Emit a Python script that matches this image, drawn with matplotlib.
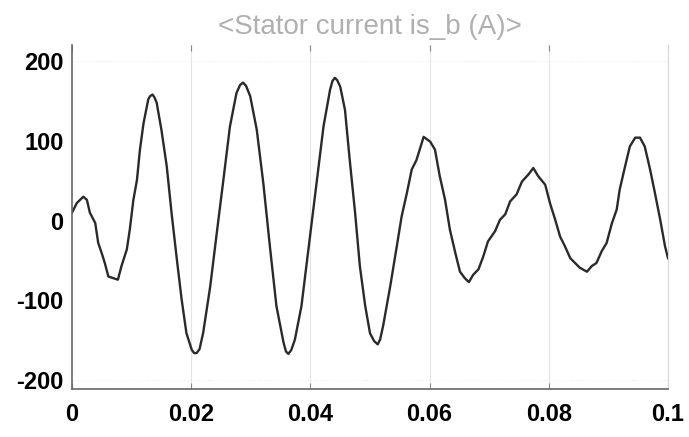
import matplotlib
matplotlib.use("Agg")
import matplotlib.pyplot as plt
from matplotlib import font_manager

# samples (time in s, current in A)
t = [0.0, 0.0008, 0.0019, 0.0025, 0.0030, 0.0039, 0.0044, 0.0050, 0.0055, 0.0061,
     0.0069, 0.0077, 0.0083, 0.0092, 0.0097, 0.0103, 0.0109, 0.0114, 0.0120, 0.0128,
     0.0131, 0.0135, 0.0138, 0.0142, 0.0150, 0.0159, 0.0167, 0.0176, 0.0184, 0.0192,
     0.0201, 0.0205, 0.0209, 0.0214, 0.0220, 0.0232, 0.0243, 0.0254, 0.0265, 0.0276,
     0.0282, 0.0287, 0.0292, 0.0299, 0.0310, 0.0321, 0.0332, 0.0343, 0.0355, 0.0359,
     0.0363, 0.0368, 0.0374, 0.0385, 0.0396, 0.0411, 0.0422, 0.0433, 0.0437, 0.0441,
     0.0445, 0.0450, 0.0458, 0.0466, 0.0475, 0.0483, 0.0492, 0.0500, 0.0507, 0.0513,
     0.0517, 0.0522, 0.0534, 0.0545, 0.0553, 0.0562, 0.0570, 0.0578, 0.0590, 0.0601,
     0.0609, 0.0617, 0.0626, 0.0634, 0.0643, 0.0651, 0.0659, 0.0666, 0.0673, 0.0682,
     0.0690, 0.0698, 0.0710, 0.0718, 0.0727, 0.0735, 0.0746, 0.0755, 0.0766, 0.0774,
     0.0782, 0.0794, 0.0802, 0.0810, 0.0819, 0.0827, 0.0836, 0.0844, 0.0852, 0.0864,
     0.0872, 0.0880, 0.0889, 0.0897, 0.0906, 0.0914, 0.0919, 0.0928, 0.0936, 0.0945,
     0.0953, 0.0961, 0.0970, 0.0978, 0.0987, 0.0995, 0.1000]
i_b = [10, 22, 30, 26, 10, -3, -28, -41, -53, -70,
       -72, -74, -57, -36, -11, 26, 51, 89, 122, 152,
       156, 158, 155, 148, 114, 68, 10, -49, -99, -141,
       -162, -166, -166, -161, -141, -82, -15, 51, 118, 160,
       170, 173, 169, 156, 114, 47, -32, -107, -153, -164,
       -167, -162, -149, -107, -40, 51, 118, 164, 175, 179,
       176, 168, 139, 76, 10, -57, -107, -141, -151, -155,
       -149, -132, -82, -32, 5, 35, 64, 76, 105, 99,
       89, 56, 26, -11, -40, -64, -72, -77, -68, -61,
       -45, -26, -13, 1, 8, 24, 33, 49, 58, 66,
       56, 45, 22, 3, -20, -32, -47, -53, -59, -64,
       -57, -53, -38, -28, -3, 14, 39, 68, 93, 104,
       104, 93, 64, 35, 1, -32, -47]

x_ticks = [0, 0.02, 0.04, 0.06, 0.08, 0.1]
x_labels = ["0", "0.02", "0.04", "0.06", "0.08", "0.1"]
y_ticks = [-200, -100, 0, 100, 200]
title = "<Stator current is_b (A)>"

names = {f.name for f in font_manager.fontManager.ttflist}
narrow = "Liberation Sans Narrow" in names
fam = "Liberation Sans Narrow" if narrow else "Liberation Sans"
plt.rcParams["font.family"] = [fam, "DejaVu Sans"]
plt.rcParams["axes.unicode_minus"] = False
lsize = 21 if narrow else 17

fig = plt.figure(figsize=(6.89, 4.37), dpi=100)
ax = fig.add_axes([0.1045, 0.1098, 0.865, 0.787])

ax.plot(t, i_b, color="#2a2a2a", lw=1.7, solid_joinstyle="round")

ax.set_xlim(0, 0.1)
ax.set_ylim(-211, 220)
ax.set_xticks(x_ticks)
ax.set_xticklabels(x_labels)
ax.set_yticks(y_ticks)

for xv in x_ticks[1:-1]:
    ax.axvline(xv, color="#e4e4e4", lw=0.8, zorder=0)
for yv in (y_ticks[0], y_ticks[-1]):
    ax.axhline(yv, color="#ececec", lw=0.8, ls=":", zorder=0)

ax.spines["top"].set_visible(False)
ax.spines["right"].set_color("#d8d8d8")
ax.spines["left"].set_color("#666666")
ax.spines["bottom"].set_color("#666666")
ax.spines["left"].set_linewidth(1.2)
ax.spines["bottom"].set_linewidth(1.2)

ax.tick_params(axis="x", direction="in", length=4, color="#888888", top=True,
               pad=10, labelsize=lsize)
ax.tick_params(axis="y", direction="in", length=0, pad=6, labelsize=lsize)
for lab in ax.get_xticklabels() + ax.get_yticklabels():
    lab.set_fontweight("bold")

ax.set_title(title, color="#b0b0b0", fontsize=20, pad=8)

fig.savefig("out.png", dpi=100)
